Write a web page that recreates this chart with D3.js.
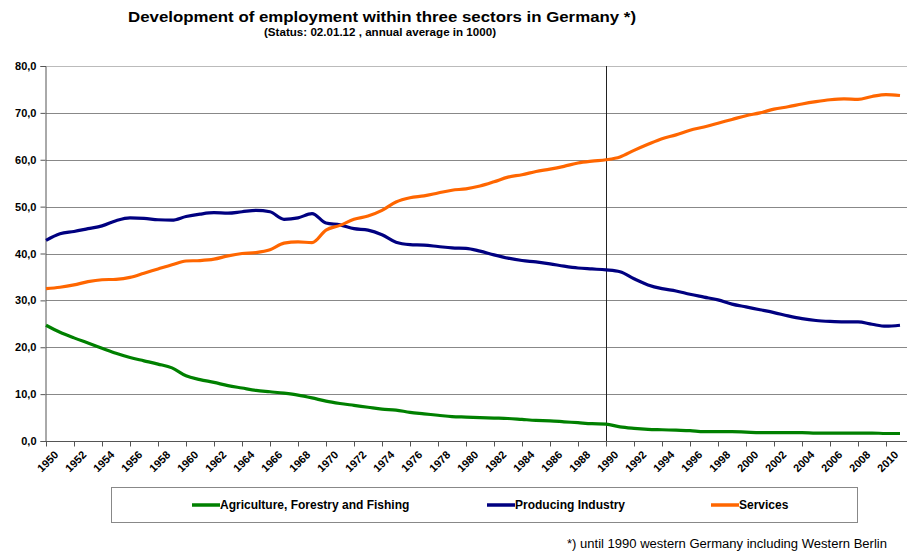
<!DOCTYPE html>
<html>
<head>
<meta charset="utf-8">
<script src="https://cdn.jsdelivr.net/npm/d3@7"></script>
<style>
  body { margin: 0; background: #fff; }
  svg { font-family: 'Liberation Sans', Arial, sans-serif; }
</style>
</head>
<body>
<svg width="907" height="555"></svg>
<script>
const years = d3.range(1950, 2012);

const agriculture = [24.7, 23.2, 22.0, 20.9, 19.8, 18.7, 17.8, 17.1, 16.4, 15.6,
  13.9, 13.1, 12.5, 11.8, 11.3, 10.8, 10.5, 10.2, 9.8, 9.2,
  8.5, 8.0, 7.6, 7.2, 6.8, 6.6, 6.1, 5.8, 5.5, 5.2,
  5.1, 5.0, 4.9, 4.8, 4.6, 4.4, 4.3, 4.1, 3.9, 3.7,
  3.6, 3.0, 2.7, 2.5, 2.4, 2.3, 2.2, 2.0, 2.0, 2.0,
  1.9, 1.8, 1.8, 1.8, 1.8, 1.7, 1.7, 1.7, 1.7, 1.7,
  1.6, 1.6];

const industry = [42.8, 44.2, 44.7, 45.3, 45.9, 47.0, 47.6, 47.5, 47.2, 47.1,
  47.9, 48.4, 48.7, 48.6, 48.9, 49.2, 48.9, 47.3, 47.6, 48.5,
  46.5, 46.1, 45.3, 45.0, 44.0, 42.4, 41.9, 41.8, 41.5, 41.2,
  41.1, 40.5, 39.7, 39.0, 38.5, 38.2, 37.8, 37.3, 36.9, 36.7,
  36.5, 36.1, 34.6, 33.3, 32.5, 32.0, 31.3, 30.7, 30.1, 29.2,
  28.6, 28.0, 27.4, 26.7, 26.1, 25.7, 25.5, 25.4, 25.4, 24.9,
  24.5, 24.7];

const services = [32.5, 32.8, 33.3, 34.0, 34.4, 34.5, 34.9, 35.8, 36.7, 37.6,
  38.4, 38.5, 38.8, 39.5, 40.0, 40.2, 40.8, 42.2, 42.5, 42.3,
  45.0, 46.0, 47.3, 48.0, 49.2, 51.0, 51.9, 52.3, 52.9, 53.5,
  53.8, 54.4, 55.3, 56.3, 56.8, 57.5, 58.0, 58.6, 59.3, 59.7,
  60.0, 60.6, 62.0, 63.3, 64.5, 65.3, 66.3, 67.0, 67.8, 68.6,
  69.4, 70.0, 70.8, 71.3, 71.9, 72.4, 72.8, 73.0, 72.9, 73.5,
  73.9, 73.7];

const yTicks = [0, 10, 20, 30, 40, 50, 60, 70, 80];
const xTicks = d3.range(1950, 2011, 2);

const seriesList = [
  { name: 'Agriculture, Forestry and Fishing', values: agriculture, color: '#008000' },
  { name: 'Producing Industry', values: industry, color: '#000080' },
  { name: 'Services', values: services, color: '#ff6600' }
];

const svg = d3.select('svg');
const plotLeft = 46, plotRight = 907, plotTop = 66, plotBottom = 441;

const x = d3.scaleLinear().domain([1950, 2011]).range([plotLeft, 900]);
const y = d3.scaleLinear().domain([0, 80]).range([plotBottom, plotTop]);

// title
svg.append('text')
  .attr('x', 128).attr('y', 22)
  .attr('font-size', '15px').attr('font-weight', 'bold')
  .attr('textLength', 508).attr('lengthAdjust', 'spacingAndGlyphs')
  .text('Development of employment within three sectors in Germany *)');

svg.append('text')
  .attr('x', 264).attr('y', 36)
  .attr('font-size', '11px').attr('font-weight', 'bold')
  .attr('textLength', 232).attr('lengthAdjust', 'spacingAndGlyphs')
  .text('(Status: 02.01.12 , annual average in 1000)');

// grid
svg.append('g')
  .selectAll('line')
  .data(yTicks.filter((d) => d > 0))
  .enter()
  .append('line')
  .attr('x1', plotLeft).attr('x2', plotRight)
  .attr('y1', (d) => Math.round(y(d)) + 0.5)
  .attr('y2', (d) => Math.round(y(d)) + 0.5)
  .attr('stroke', (d) => (d === 80 ? '#bbb' : '#888'))
  .attr('stroke-width', 1);

// 1990 marker
svg.append('line')
  .attr('x1', Math.round(x(1990)) + 0.5).attr('x2', Math.round(x(1990)) + 0.5)
  .attr('y1', plotTop).attr('y2', plotBottom)
  .attr('stroke', '#222').attr('stroke-width', 1);

// y axis
const yAxis = svg.append('g')
  .attr('transform', `translate(${plotLeft - 0.5},0)`)
  .call(d3.axisLeft(y).tickValues(yTicks).tickSize(5).tickPadding(4)
    .tickFormat((d) => d3.format('.1f')(d).replace('.', ',')));
yAxis.select('.domain').attr('stroke', '#555');
yAxis.selectAll('.tick line').attr('stroke', '#555');
yAxis.selectAll('text')
  .attr('font-size', '11px').attr('font-weight', 'bold')
  .attr('font-family', 'Liberation Sans, Arial, sans-serif').attr('fill', '#000');

// x axis
const xAxis = svg.append('g')
  .attr('transform', `translate(0,${plotBottom + 0.5})`)
  .call(d3.axisBottom(x).tickValues(xTicks).tickSize(5).tickFormat(d3.format('d')));
xAxis.select('.domain').attr('d', `M${plotLeft},0H${plotRight}`).attr('stroke', '#555');
xAxis.selectAll('.tick line').attr('stroke', '#555');
xAxis.selectAll('text')
  .attr('font-size', '11px').attr('font-weight', 'bold')
  .attr('font-family', 'Liberation Sans, Arial, sans-serif').attr('fill', '#000')
  .attr('text-anchor', 'end')
  .attr('dx', '0.3em').attr('dy', '0.6em')
  .attr('transform', 'translate(0,6) rotate(-45)');

// lines
const line = d3.line()
  .x((d, i) => x(years[i]))
  .y((d) => y(d))
  .curve(d3.curveMonotoneX);

svg.append('g')
  .selectAll('path')
  .data(seriesList)
  .enter()
  .append('path')
  .attr('d', (d) => line(d.values))
  .attr('fill', 'none')
  .attr('stroke', (d) => d.color)
  .attr('stroke-width', 3.2)
  .attr('stroke-linejoin', 'round');

// legend
const legend = svg.append('g');
legend.append('rect')
  .attr('x', 111.5).attr('y', 487.5)
  .attr('width', 746).attr('height', 35)
  .attr('fill', '#fff').attr('stroke', '#888');

const legendPos = [192, 487, 711];
const items = legend.selectAll('.item')
  .data(seriesList)
  .enter()
  .append('g')
  .attr('class', 'item')
  .attr('transform', (d, i) => `translate(${legendPos[i]},505)`);
items.append('line')
  .attr('x1', 0).attr('x2', 28)
  .attr('stroke', (d) => d.color).attr('stroke-width', 3.5);
items.append('text')
  .attr('x', 28).attr('y', 4)
  .attr('font-size', '12px').attr('font-weight', 'bold')
  .text((d) => d.name);

// footnote
svg.append('text')
  .attr('x', 567).attr('y', 548)
  .attr('font-size', '12.5px')
  .attr('textLength', 320).attr('lengthAdjust', 'spacingAndGlyphs')
  .text('*) until 1990 western Germany including Western Berlin');
</script>
</body>
</html>
